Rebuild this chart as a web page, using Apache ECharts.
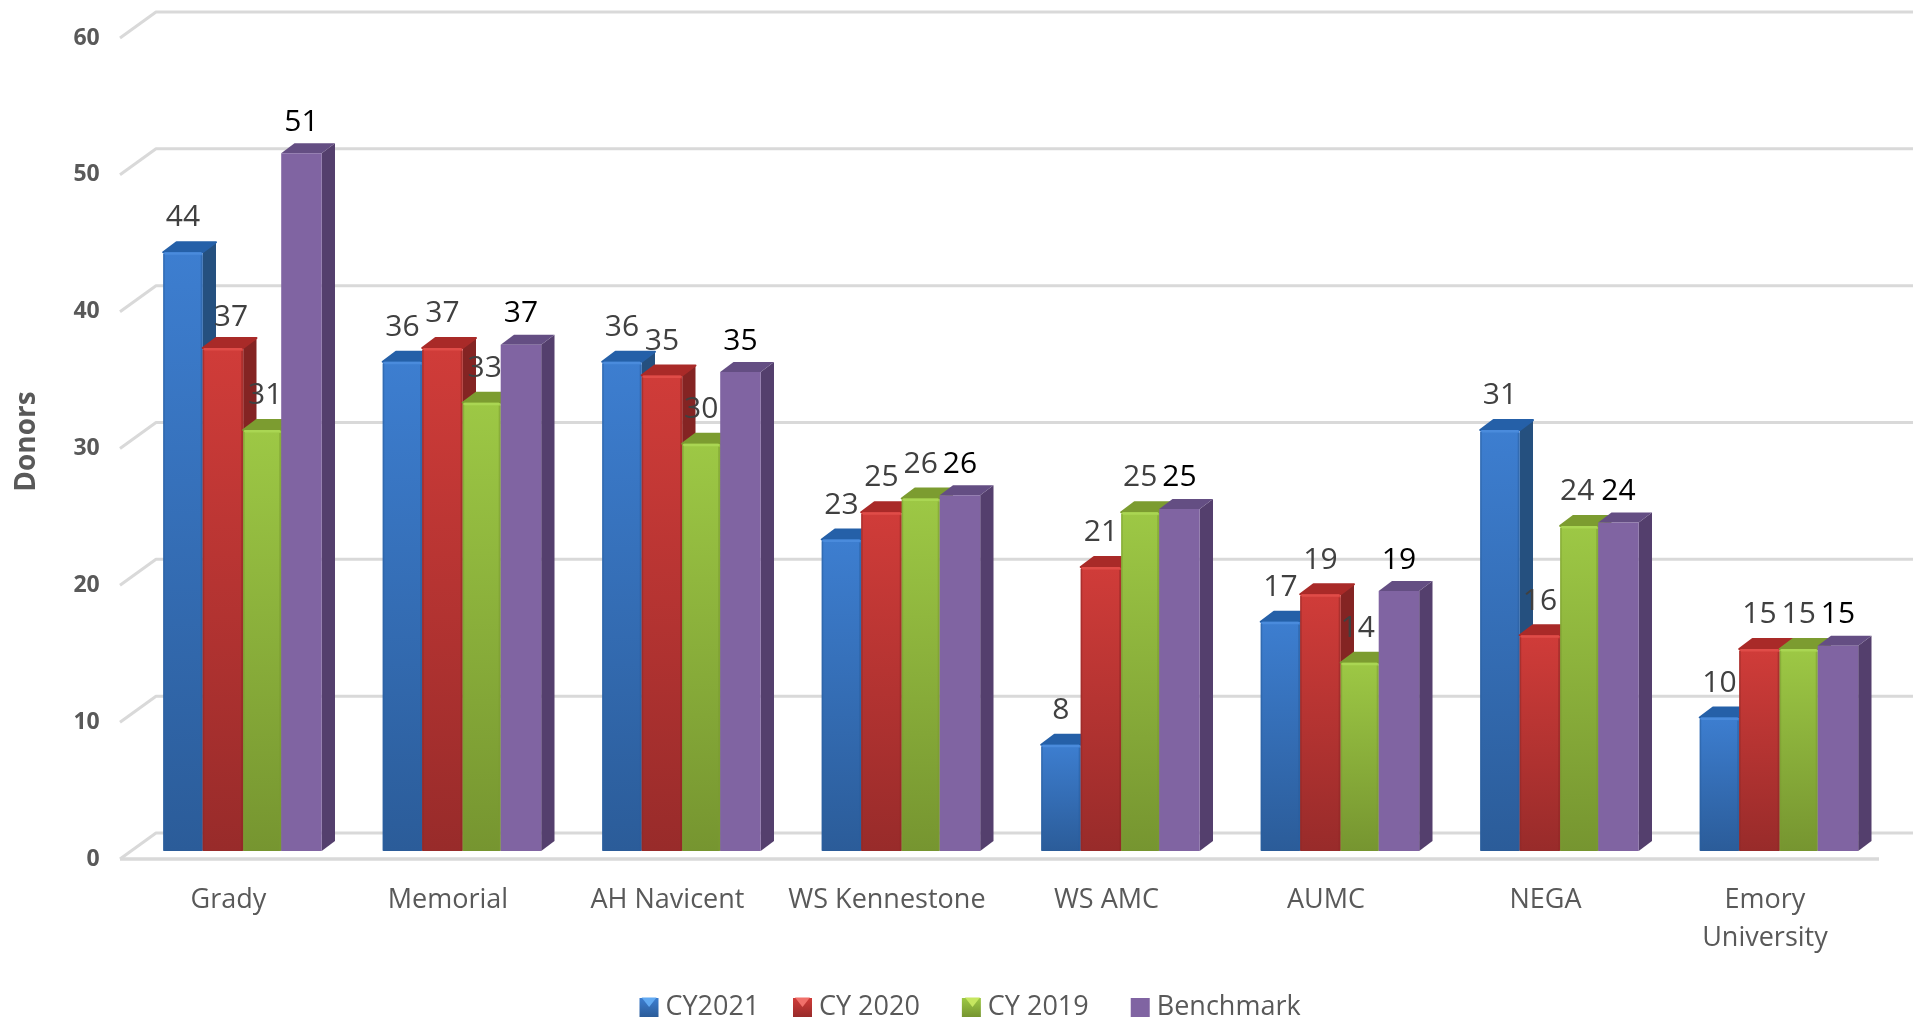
<!DOCTYPE html>
<html><head><meta charset="utf-8">
<style>html,body{margin:0;padding:0;background:#fff}#c{width:1921px;height:1020px}</style>
<script src="https://cdn.jsdelivr.net/npm/echarts@6/dist/echarts.min.js"></script>
</head><body><div id="c"></div>
<script>
const categories = ['Grady','Memorial','AH Navicent','WS Kennestone','WS AMC','AUMC','NEGA','Emory\nUniversity'];
const cy2021 = [44,36,36,23,8,17,31,10];
const cy2020 = [37,37,35,25,21,19,16,15];
const cy2019 = [31,33,30,26,25,14,24,15];
const benchmark = [51,37,35,26,25,19,24,15];
const yTicks = [0,10,20,30,40,50,60];

const FONT = '"Open Sans"';
const looks = [
  {name:'CY2021', values:cy2021, off:0, w:39.5, sink:3.3, top:'#3d7ed0', bot:'#2b5c99', side:'#25507f', cap:'#2560a8', hi:'#4a8bdc', edge:'#2a5f9e', label:'#404040', bevel:true, gem:'#62aaf2'},
  {name:'CY 2020', values:cy2020, off:39.5, w:40.5, sink:3.3, top:'#d03c39', bot:'#982b2a', side:'#842423', cap:'#a92a28', hi:'#e04c48', edge:'#8f2826', label:'#404040', bevel:true, gem:'#f0706a'},
  {name:'CY 2019', values:cy2019, off:80, w:38, sink:3.3, top:'#9dc845', bot:'#769530', side:'#6a8529', cap:'#7c9c30', hi:'#aad653', edge:'#7a9a32', label:'#404040', bevel:true, gem:'#c6e660'},
  {name:'Benchmark', values:benchmark, off:118, w:40.5, sink:0, top:'#8064a2', bot:'#8064a2', side:'#543f6d', cap:'#644e83', hi:'#8064a2', edge:'#8064a2', label:'#000000', bevel:false}
];
const DX = 13.3, DY = 10, RAISE = 8, GROUP = 158.5;
// Hand placement of the few labels the reference moves off their bars: series,category -> dx,dy
const labelNudge = {'1,0':[8,4], '2,0':[3,0], '2,1':[3,0], '2,5':[-2,0], '2,6':[-2,0]};

function wallItem(params, api){
  const v = api.value(0), cs = params.coordSys;
  const y = api.coord([0, v])[1];
  const xF = cs.x - 12.7, xB = cs.x + 23.3, xR = cs.x + cs.width + 24.3, back = y - 26;
  const style = {stroke:'#d9d9d9', lineWidth:3, fill:null, lineJoin:'round'};
  const kids = [{type:'polyline', shape:{points:[[xF,y],[xB,back],[xR,back]]}, style}];
  if (v === 0) {
    kids.push({type:'line', shape:{x1:xF,y1:y,x2:cs.x+cs.width-9.7,y2:y}, style:{stroke:'#d9d9d9', lineWidth:3.5}});
  }
  return {type:'group', children:kids};
}

function barItem(look){
  return function(params, api){
    const p = api.coord([api.value(0), api.value(1)]);
    const base = api.coord([api.value(0), 0]);
    const x = p[0] - GROUP/2 + look.off, w = look.w;
    const yT = p[1] - RAISE + look.sink, yB = base[1] - RAISE;
    const kids = [
      {type:'polygon', shape:{points:[[x+w,yT],[x+w+DX,yT-DY],[x+w+DX,yB-DY],[x+w,yB]]}, style:{fill:look.side}},
      {type:'polygon', shape:{points:[[x,yT],[x+DX,yT-DY],[x+w+DX,yT-DY],[x+w,yT]]},
        style:{fill:look.cap, stroke:look.bevel?look.cap:null, lineWidth:look.bevel?2:0, lineJoin:'round'}},
      {type:'rect', shape:{x:x,y:yT,width:w,height:yB-yT, r:look.bevel?[2,2,1,1]:0},
        style:{fill:{type:'linear',x:0,y:0,x2:0,y2:1,colorStops:[{offset:0,color:look.top},{offset:1,color:look.bot}]}}}
    ];
    if (look.bevel) {
      kids.push({type:'rect', shape:{x:x+1,y:yT,width:w-2,height:2.5,r:1}, style:{fill:look.hi}});
      kids.push({type:'rect', shape:{x:x,y:yT+2,width:1.5,height:yB-yT-2}, style:{fill:look.edge, opacity:.55}});
      kids.push({type:'rect', shape:{x:x+w-2,y:yT+3,width:2,height:yB-yT-3}, style:{fill:look.edge, opacity:.55}});
    }
    return {type:'group', children:kids};
  };
}

function labelItem(look, s){
  return function(params, api){
    const p = api.coord([api.value(0), api.value(1)]);
    const n = labelNudge[s+','+api.value(0)] || [0,0];
    return {type:'text', style:{x:p[0]-GROUP/2+look.off+look.w/2+n[0], y:p[1]-RAISE-31+n[1], text:String(api.value(1)), fill:look.label,
      font:'30px '+FONT, align:'center', verticalAlign:'middle'}};
  };
}

// The reference's legend keys carry a light wedge at the top, which a plain legend icon cannot draw.
const keyLefts = [639.6, 793, 963];
const keyTop = 995.5, keySize = 19;
const legendText = {fontFamily:FONT, fontSize:27, color:'#595959', padding:[0,0,0,2]};
const chart = echarts.init(document.getElementById('c'), null, {renderer:'canvas'});
chart.setOption({
  animation:false,
  backgroundColor:'#ffffff',
  grid:{left:132.7, right:32.3, top:38, bottom:161, containLabel:false, outerBoundsMode:'none'},
  legend:[
    {left:634.5, top:989, itemWidth:keySize, itemHeight:keySize, icon:'rect', data:[looks[0].name], textStyle:legendText},
    {left:788, top:989, itemWidth:keySize, itemHeight:keySize, itemGap:42, icon:'rect', data:looks.slice(1).map(l=>l.name), textStyle:legendText}
  ],
  graphic:keyLefts.map((x,i)=>({type:'polygon', z:100, silent:true,
    shape:{points:[[x+2,keyTop+2],[x+keySize-2,keyTop+2],[x+keySize/2,keyTop+keySize/2+2]]},
    style:{fill:looks[i].gem}})),
  xAxis:{type:'category', data:categories, axisLine:{show:false}, axisTick:{show:false}, splitLine:{show:false},
    axisLabel:{fontFamily:FONT, fontSize:27, color:'#595959', margin:22, lineHeight:38, padding:[0,28,0,0], interval:0}},
  yAxis:{type:'value', min:0, max:60, interval:10, axisLine:{show:false}, axisTick:{show:false}, splitLine:{show:false},
    name:'Donors', nameLocation:'middle', nameGap:92,
    nameTextStyle:{fontFamily:FONT, fontSize:28, fontWeight:'bold', color:'#595959', padding:[0,0,0,14]},
    axisLabel:{fontFamily:FONT, fontSize:23, fontWeight:'bold', color:'#595959', margin:33, padding:[2,0,0,0]}},
  series:[
    {type:'custom', name:'walls', silent:true, z:1, data:yTicks.map(v=>[v]), renderItem:wallItem, encode:{y:0}, clip:false}
  ].concat(looks.map((l,i)=>({
    type:'custom', name:l.name, clip:false, z:2+i,
    data:l.values.map((v,k)=>[k,v]),
    itemStyle:{color:{type:'linear',x:0,y:0,x2:0,y2:1,colorStops:[{offset:0,color:l.top},{offset:1,color:l.bot}]}},
    renderItem:barItem(l),
    encode:{x:0,y:1}
  }))).concat(looks.map((l,i)=>({
    type:'custom', name:l.name+' labels', clip:false, z:20, silent:true,
    data:l.values.map((v,k)=>[k,v]),
    renderItem:labelItem(l,i),
    encode:{x:0,y:1}
  })))
});
</script></body></html>
